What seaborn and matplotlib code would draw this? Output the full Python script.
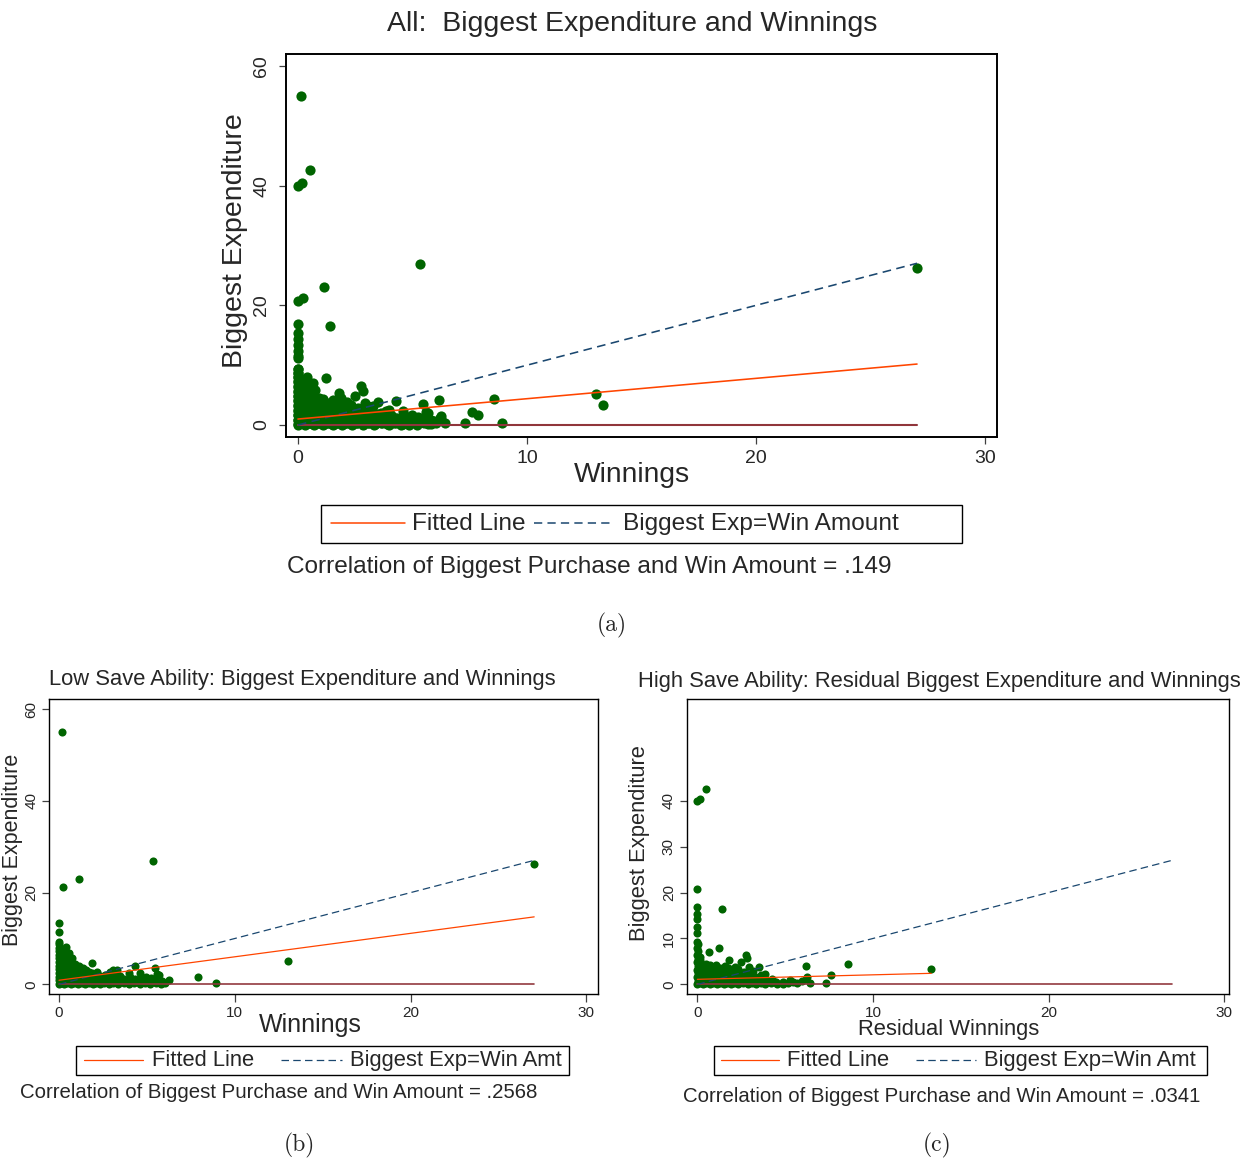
import numpy as np
import pandas as pd
import matplotlib
matplotlib.use("Agg")
import matplotlib.pyplot as plt
from matplotlib.lines import Line2D
from matplotlib.patches import Rectangle
import seaborn as sns

# ---------------------------------------------------------------- data
# Low save ability: (winnings, biggest expenditure)
low_outliers = [
    (0.15, 55.0), (5.35, 26.9), (27.03, 26.3), (1.14, 23.0), (0.23, 21.2),
    (0.00, 13.4), (0.00, 11.5), (0.00, 9.3), (0.38, 8.1), (13.03, 5.15),
    (8.92, 0.35), (7.88, 1.66), (6.24, 1.0), (5.67, 1.96), (5.45, 3.5),
    (4.30, 4.0), (3.07, 3.1), (3.27, 3.1), (1.88, 4.6), (3.98, 2.5),
    (2.88, 2.6), (4.60, 2.4), (5.60, 2.2), (4.97, 1.7),
]
low_cluster = [
    (0.00, 0.1), (0.00, 0.9), (0.02, 1.7), (0.00, 2.5), (0.01, 3.3), (0.00, 4.1),
    (0.02, 4.9), (0.00, 5.7), (0.01, 6.5), (0.00, 7.3), (0.02, 8.0), (0.00, 8.7),
    (0.14, 0.4), (0.16, 1.3), (0.13, 2.1), (0.17, 2.9), (0.15, 3.8), (0.12, 4.6),
    (0.16, 5.4), (0.14, 6.2), (0.17, 7.0), (0.13, 7.7),
    (0.29, 0.0), (0.31, 0.8), (0.28, 1.6), (0.33, 2.5), (0.30, 3.3), (0.27, 4.2),
    (0.32, 5.0), (0.30, 5.8), (0.29, 6.6), (0.34, 7.3),
    (0.48, 0.3), (0.52, 1.1), (0.50, 2.0), (0.47, 2.8), (0.53, 3.6), (0.49, 4.5),
    (0.51, 5.3), (0.50, 6.1), (0.55, 6.8),
    (0.68, 0.1), (0.72, 0.9), (0.70, 1.8), (0.67, 2.6), (0.73, 3.5), (0.71, 4.3),
    (0.69, 5.1), (0.74, 5.8),
    (0.88, 0.3), (0.91, 1.2), (0.93, 2.0), (0.87, 2.9), (0.90, 3.7), (0.92, 4.5),
    (1.08, 0.0), (1.12, 0.9), (1.10, 1.7), (1.13, 2.6), (1.07, 3.4), (1.11, 4.1),
    (1.29, 0.4), (1.32, 1.2), (1.28, 2.1), (1.31, 2.9), (1.34, 3.5),
    (1.49, 0.1), (1.52, 0.9), (1.50, 1.8), (1.47, 2.6), (1.55, 3.2),
    (1.70, 0.3), (1.73, 1.1), (1.68, 2.0), (1.72, 2.7),
    (1.91, 0.0), (1.88, 0.8), (1.94, 1.6), (1.90, 2.4),
    (2.10, 0.4), (2.13, 1.2), (2.08, 2.0), (2.15, 2.6),
    (2.33, 0.1), (2.37, 0.9), (2.35, 1.8),
    (2.58, 0.3), (2.62, 1.2), (2.60, 2.1),
    (2.84, 0.0), (2.87, 0.8), (2.83, 1.7),
    (3.08, 0.4), (3.12, 1.3), (3.15, 2.2),
    (3.38, 0.1), (3.42, 0.9), (3.45, 1.8),
    (3.68, 0.3), (3.72, 1.1),
    (3.98, 0.0), (4.03, 0.8), (4.05, 1.7),
    (4.28, 0.4), (4.33, 1.2),
    (4.58, 0.1), (4.62, 0.9), (4.65, 1.6),
    (4.88, 0.3), (4.93, 1.0),
    (5.18, 0.0), (5.22, 0.7), (5.25, 1.4),
    (5.52, 0.3), (5.48, 1.1),
    (5.80, 0.1), (5.83, 0.8), (6.05, 0.4),
]

# High save ability: (residual winnings, biggest expenditure)
high_outliers = [
    (0.00, 39.9), (0.17, 40.5), (0.51, 42.6), (0.00, 20.7), (1.42, 16.5),
    (0.00, 16.9), (0.00, 15.3), (0.00, 14.3), (0.00, 12.4), (0.00, 11.2),
    (13.32, 3.35), (8.58, 4.35), (7.60, 2.1), (7.30, 0.4), (6.17, 4.1),
    (6.24, 1.5), (6.20, 1.15), (1.23, 7.86), (0.66, 7.1), (1.80, 5.4),
    (2.50, 4.9), (2.75, 6.5), (2.85, 5.7), (2.94, 3.7), (3.49, 3.8), (3.83, 2.3),
]
high_cluster = [
    (0.00, 0.0), (0.01, 0.8), (0.00, 1.6), (0.02, 2.4), (0.00, 3.2), (0.01, 4.0),
    (0.00, 4.8), (0.02, 5.6), (0.00, 6.4), (0.01, 7.2), (0.00, 8.0), (0.02, 8.7),
    (0.00, 9.3),
    (0.15, 0.3), (0.13, 1.1), (0.17, 2.0), (0.14, 2.8), (0.16, 3.7), (0.12, 4.5),
    (0.15, 5.3), (0.13, 6.0),
    (0.31, 0.1), (0.29, 0.9), (0.33, 1.8), (0.30, 2.6), (0.28, 3.5), (0.32, 4.3),
    (0.49, 0.4), (0.52, 1.2), (0.47, 2.1), (0.51, 2.9), (0.54, 3.7), (0.50, 4.4),
    (0.71, 0.0), (0.68, 0.8), (0.73, 1.7), (0.70, 2.5), (0.67, 3.4), (0.72, 4.2),
    (0.91, 0.3), (0.88, 1.2), (0.92, 2.0), (0.89, 2.9), (0.93, 3.7),
    (1.10, 0.1), (1.13, 0.9), (1.08, 1.8), (1.12, 2.6), (1.11, 3.5), (1.09, 4.3),
    (1.31, 0.4), (1.28, 1.2), (1.33, 2.1), (1.30, 2.9), (1.27, 3.6),
    (1.52, 0.0), (1.49, 0.8), (1.53, 1.7), (1.48, 2.5), (1.51, 3.3), (1.55, 4.1),
    (1.71, 0.3), (1.68, 1.1), (1.73, 2.0), (1.70, 2.8), (1.72, 3.6),
    (1.92, 0.1), (1.89, 0.9), (1.94, 1.8), (1.90, 2.6), (1.88, 3.4),
    (2.11, 0.4), (2.08, 1.2), (2.13, 2.1), (2.10, 2.9), (2.15, 3.8),
    (2.34, 0.0), (2.37, 0.8), (2.32, 1.7), (2.36, 2.5), (2.33, 3.3),
    (2.59, 0.3), (2.62, 1.1), (2.58, 2.0), (2.63, 2.8),
    (2.86, 0.1), (2.83, 0.9), (2.88, 1.8), (2.84, 2.7),
    (3.09, 0.4), (3.13, 1.2), (3.10, 2.1), (3.15, 3.0),
    (3.34, 0.0), (3.37, 0.8), (3.32, 1.7),
    (3.61, 0.3), (3.58, 1.1), (3.64, 2.0),
    (3.88, 0.1), (3.92, 0.9),
    (4.19, 0.4), (4.23, 1.2),
    (4.50, 0.6), (4.52, 0.0), (4.87, 0.6), (4.85, 0.0), (5.15, 0.3),
    (5.30, 0.9), (5.44, 0.6), (5.70, 0.2), (5.95, 0.7), (6.40, 0.3),
]

# fitted regression lines (intercept, slope, x extent) for All / Low / High
fit_intercept = [1.0, 0.9, 1.1]
fit_slope = [0.34, 0.511, 0.098]
fit_xmax = [27.03, 27.03, 13.32]
correlations = [".149", ".2568", ".0341"]
ref_xmax = 27.03   # extent of the 45-degree and zero reference lines

# ---------------------------------------------------------------- style
sns.set_style("ticks")
plt.rcParams["font.family"] = ["Liberation Sans", "DejaVu Sans"]

GREEN = "#006400"
FIT = "#FF4500"
DIAG = "#1A476F"
ZERO = "#90353B"

W, H = 1246, 1158
fig = plt.figure(figsize=(W / 100, H / 100), dpi=100)


def fx(px):
    return px / W


def fy(py):
    return 1 - py / H


def add_axes(l, t, r, b):
    return fig.add_axes([fx(l), fy(b), (r - l) / W, (b - t) / H])


def text(px, py, s, size, **kw):
    kw.setdefault("ha", "center")
    kw.setdefault("va", "center")
    fig.text(fx(px), fy(py), s, fontsize=size, **kw)


def to_frame(*groups):
    pts = [p for g in groups for p in g]
    return pd.DataFrame(pts, columns=["win", "exp"])


def panel(ax, df, k, xlim, ylim, yticks, dot, lw, dash, tsize, tlen, xpad, ypad, spw):
    sns.scatterplot(data=df, x="win", y="exp", ax=ax, color=GREEN, s=dot,
                    linewidth=0, zorder=2)
    xr = np.array([0.0, ref_xmax])
    sns.lineplot(x=xr, y=np.zeros(2), ax=ax, color=ZERO, lw=lw * 1.3, zorder=3)
    sns.lineplot(x=xr, y=xr, ax=ax, color=DIAG, lw=lw, zorder=3)
    ax.lines[-1].set_linestyle((0, dash))
    xf = np.array([0.0, fit_xmax[k]])
    sns.lineplot(x=xf, y=fit_intercept[k] + fit_slope[k] * xf, ax=ax,
                 color=FIT, lw=lw, zorder=4)
    ax.set_xlim(*xlim)
    ax.set_ylim(*ylim)
    ax.set_xticks([0, 10, 20, 30])
    ax.set_yticks(yticks)
    ax.set_xlabel("")
    ax.set_ylabel("")
    ax.tick_params(axis="both", labelsize=tsize, length=tlen, width=0.9,
                   color="0.25", direction="out")
    ax.tick_params(axis="x", pad=xpad)
    ax.tick_params(axis="y", pad=ypad, labelrotation=90)
    for lab in ax.get_yticklabels():
        lab.set_va("center")
    for sp in ax.spines.values():
        sp.set_color("black")
        sp.set_linewidth(spw)
    if ax.get_legend() is not None:
        ax.get_legend().remove()


def legend_box(l, t, r, b, items, size, lw, dash):
    yc = (t + b) / 2
    fig.add_artist(Rectangle((fx(l), fy(b)), (r - l) / W, (b - t) / H,
                             transform=fig.transFigure, fill=False,
                             edgecolor="black", lw=1.0))
    for x0, x1, color, ls, label, tx in items:
        fig.add_artist(Line2D([fx(x0), fx(x1)], [fy(yc - 1), fy(yc - 1)],
                              transform=fig.transFigure, color=color, lw=lw,
                              linestyle=(0, dash) if ls == "dash" else "-"))
        text(tx, yc, label, size, ha="left")


df_low = to_frame(low_outliers, low_cluster)
df_high = to_frame(high_outliers, high_cluster)
df_all = pd.concat([df_low, df_high], ignore_index=True)

# ---------------------------------------------------------------- (a) all
ax_a = add_axes(286, 54, 997, 437)
panel(ax_a, df_all, 0, (-0.52, 30.52), (-2.0, 62.0), [0, 20, 40, 60],
      dot=54, lw=1.15, dash=(5.4, 3.4), tsize=14, tlen=5, xpad=4.5, ypad=6.5, spw=1.4)
text(632, 24, "All:  Biggest Expenditure and Winnings", 20.5)
text(235, 241, "Biggest Expenditure", 20.5, rotation=90)
text(632, 475, "Winnings", 20.3)
legend_box(321, 505, 962, 543,
           [(331, 405, FIT, "solid", "Fitted Line", 412),
            (534, 612, DIAG, "dash", "Biggest Exp=Win Amount", 623)],
           17.6, 1.1, (5.4, 3.4))
text(589, 567, "Correlation of Biggest Purchase and Win Amount = " + correlations[0], 17.6)
text(612, 625, "(a)", 17, family="cmr10")

# ---------------------------------------------------------------- (b) low
ax_b = add_axes(49, 699, 598, 994)
panel(ax_b, df_low, 1, (-0.57, 30.66), (-2.1, 62.2), [0, 20, 40, 60],
      dot=34, lw=0.9, dash=(6.0, 3.4), tsize=11, tlen=5.4, xpad=3, ypad=2.4, spw=1.0)
text(302, 679, "Low Save Ability: Biggest Expenditure and Winnings", 15.8)
text(13, 850, "Biggest Expenditure", 15.5, rotation=90)
text(310, 1025, "Winnings", 18)
legend_box(76, 1046, 569, 1075,
           [(84, 143, FIT, "solid", "Fitted Line", 152),
            (281, 342, DIAG, "dash", "Biggest Exp=Win Amt", 350)],
           15.8, 0.9, (6.0, 3.4))
text(279, 1092, "Correlation of Biggest Purchase and Win Amount = " + correlations[1], 14.7)
text(299, 1145, "(b)", 17, family="cmr10")

# ---------------------------------------------------------------- (c) high
ax_c = add_axes(687, 699, 1229, 994)
panel(ax_c, df_high, 2, (-0.59, 30.28), (-2.1, 62.2), [0, 10, 20, 30, 40],
      dot=34, lw=0.9, dash=(6.0, 3.4), tsize=11, tlen=5.4, xpad=3, ypad=2.6, spw=1.0)
text(939, 681, "High Save Ability: Residual Biggest Expenditure and Winnings", 15.8)
text(639, 843, "Biggest Expenditure", 15.8, rotation=90)
text(949, 1030, "Residual Winnings", 15.8)
legend_box(714, 1046, 1207, 1075,
           [(721, 779, FIT, "solid", "Fitted Line", 787),
            (916, 976, DIAG, "dash", "Biggest Exp=Win Amt", 984)],
           15.8, 0.9, (6.0, 3.4))
text(942, 1096, "Correlation of Biggest Purchase and Win Amount = " + correlations[2], 14.7)
text(937, 1145, "(c)", 17, family="cmr10")

fig.savefig("out.png", dpi=100)
